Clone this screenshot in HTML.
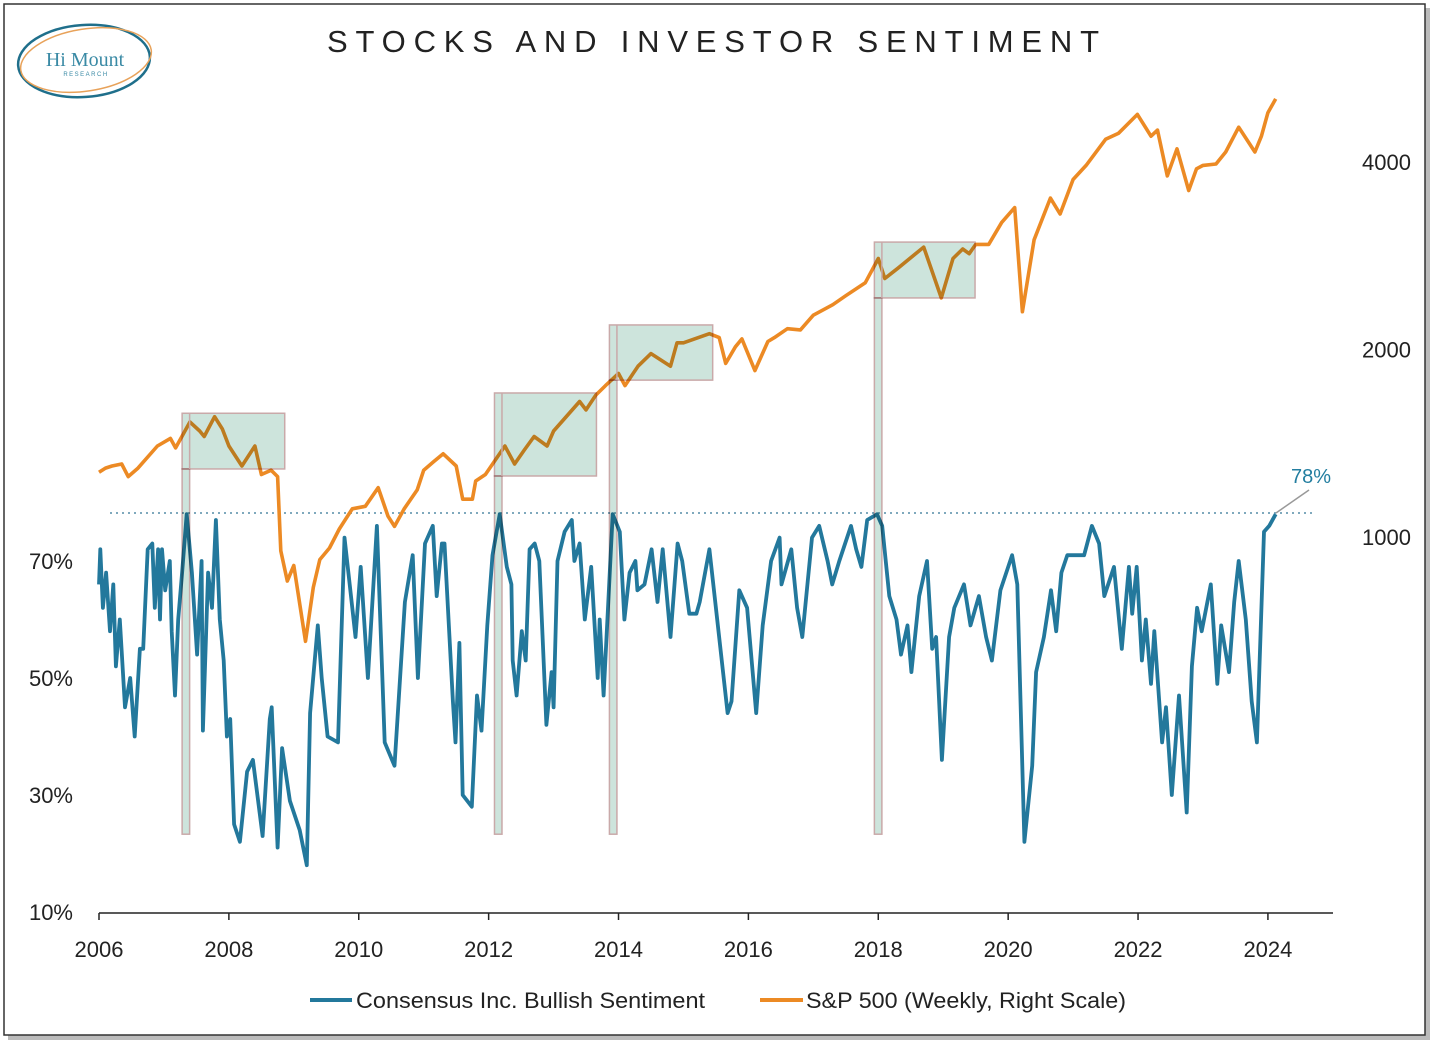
<!DOCTYPE html>
<html><head><meta charset="utf-8"><style>
html,body{margin:0;padding:0;background:#fff;}
svg{display:block;font-family:"Liberation Sans",sans-serif;}
#boxes rect{mix-blend-mode:multiply;}
</style></head><body>
<svg id="chart" width="1438" height="1049" viewBox="0 0 1438 1049" xmlns="http://www.w3.org/2000/svg">
<rect x="8" y="8" width="1422" height="1032" fill="#bbb"/>
<rect x="4" y="4" width="1421" height="1031" fill="#fff" stroke="#333" stroke-width="1.5"/>
<g>
<ellipse cx="84" cy="61" rx="66" ry="36" fill="none" stroke="#1f6f8b" stroke-width="2.5" transform="rotate(-4 84 61)"/>
<ellipse cx="86" cy="60" rx="66" ry="31" fill="none" stroke="#e8a25a" stroke-width="1.5" transform="rotate(-9 86 60)"/>
<text x="85" y="66" text-anchor="middle" font-family="Liberation Serif,serif" font-size="20" fill="#3a8aa5">Hi Mount</text>
<text x="86" y="76" text-anchor="middle" font-size="6" letter-spacing="1.5" fill="#3a8aa5">RESEARCH</text>
</g>
<text x="327" y="52" font-size="31" textLength="772" lengthAdjust="spacing" fill="#222">STOCKS AND INVESTOR SENTIMENT</text>
<line x1="110" y1="513" x2="1312" y2="513" stroke="#7fa9bd" stroke-width="2" stroke-dasharray="2,4"/>
<g id="series"></g>
<g id="boxes"></g>
<g id="axes"></g>
<line x1="1276" y1="513" x2="1309" y2="490" stroke="#999" stroke-width="1.5"/>
<text x="1311" y="483" text-anchor="middle" font-size="20" fill="#237ea0">78%</text>
<g>
<line x1="310" y1="1000" x2="352" y2="1000" stroke="#23789c" stroke-width="4"/>
<text x="356" y="1008" font-size="22" textLength="349" lengthAdjust="spacingAndGlyphs" fill="#222">Consensus Inc. Bullish Sentiment</text>
<line x1="760" y1="1000" x2="803" y2="1000" stroke="#ec8a24" stroke-width="4"/>
<text x="806" y="1008" font-size="22" textLength="320" lengthAdjust="spacingAndGlyphs" fill="#222">S&amp;P 500 (Weekly, Right Scale)</text>
</g>
</svg>
<script>
const sentYears=[0,.02,.06,.11,.17,.22,.26,.32,.4,.48,.55,.63,.68,.75,.82,.86,.91,.94,.97,1.02,1.09,1.12,1.17,1.22,1.28,1.35,1.43,1.51,1.58,1.6,1.68,1.74,1.8,1.86,1.92,1.97,2.02,2.08,2.17,2.28,2.37,2.52,2.63,2.66,2.75,2.82,2.94,3.09,3.2,3.25,3.37,3.43,3.52,3.68,3.78,3.86,3.95,4.03,4.14,4.28,4.4,4.55,4.71,4.83,4.91,5.02,5.14,5.2,5.28,5.32,5.45,5.49,5.55,5.6,5.74,5.82,5.89,5.98,6.06,6.17,6.28,6.35,6.37,6.43,6.51,6.57,6.63,6.71,6.78,6.89,6.97,7.0,7.06,7.17,7.28,7.32,7.4,7.48,7.58,7.68,7.71,7.77,7.91,8.02,8.09,8.17,8.26,8.29,8.4,8.51,8.6,8.68,8.8,8.91,8.98,9.09,9.2,9.25,9.4,9.52,9.68,9.74,9.86,9.98,10.12,10.22,10.35,10.48,10.51,10.66,10.75,10.83,10.98,11.09,11.22,11.29,11.4,11.58,11.66,11.74,11.83,11.98,12.06,12.17,12.28,12.35,12.45,12.51,12.63,12.75,12.83,12.89,12.98,13.09,13.17,13.32,13.42,13.55,13.66,13.75,13.88,14.06,14.14,14.25,14.37,14.43,14.55,14.66,14.74,14.82,14.91,15.09,15.17,15.29,15.4,15.48,15.63,15.75,15.86,15.91,15.98,16.06,16.12,16.2,16.25,16.37,16.43,16.52,16.63,16.75,16.83,16.91,16.98,17.12,17.22,17.28,17.4,17.48,17.55,17.66,17.75,17.83,17.94,18.02,18.12];
const sentValues=[66,72,62,68,58,66,52,60,45,50,40,55,55,72,73,62,72,60,72,65,70,58,47,60,68,78,68,54,70,41,68,62,77,60,53,40,43,25,22,34,36,23,43,45,21,38,29,24,18,44,59,50,40,39,74,66,57,69,50,76,39,35,63,71,50,73,76,64,73,73,46,39,56,30,28,47,41,59,71,78,69,66,53,47,58,53,72,73,70,42,51,45,70,75,77,70,73,60,69,50,60,47,78,75,60,68,70,65,66,72,63,72,57,73,70,61,61,63,72,60,44,46,65,62,44,59,70,74,66,72,62,57,74,76,70,66,70,76,72,69,77,78,76,64,60,54,59,51,64,70,55,57,36,57,62,66,59,64,57,53,65,71,66,22,35,51,57,65,58,68,71,71,71,76,73,64,69,55,69,61,69,53,60,49,58,39,45,30,47,27,52,62,58,66,49,59,51,63,70,60,46,39,75,76,78];
const spxYears=[2006.0,2006.1,2006.2,2006.35,2006.45,2006.6,2006.9,2007.1,2007.18,2007.4,2007.55,2007.62,2007.78,2007.9,2008.0,2008.2,2008.4,2008.5,2008.65,2008.75,2008.8,2008.9,2009.0,2009.18,2009.3,2009.4,2009.55,2009.7,2009.9,2010.1,2010.3,2010.45,2010.55,2010.7,2010.9,2011.0,2011.15,2011.3,2011.5,2011.6,2011.75,2011.8,2011.95,2012.25,2012.4,2012.55,2012.7,2012.9,2013.0,2013.4,2013.5,2013.65,2013.8,2014.0,2014.1,2014.3,2014.5,2014.8,2014.9,2015.0,2015.4,2015.55,2015.65,2015.8,2015.9,2016.1,2016.3,2016.4,2016.6,2016.8,2017.0,2017.3,2017.5,2017.8,2018.0,2018.1,2018.3,2018.7,2018.97,2019.15,2019.3,2019.4,2019.5,2019.7,2019.9,2020.1,2020.22,2020.4,2020.65,2020.8,2021.0,2021.2,2021.5,2021.7,2021.99,2022.2,2022.3,2022.45,2022.6,2022.78,2022.9,2023.0,2023.2,2023.35,2023.55,2023.8,2023.9,2024.0,2024.12];
const spxValues=[1270,1290,1300,1310,1250,1290,1400,1440,1390,1530,1480,1450,1560,1490,1400,1300,1400,1260,1280,1250,950,850,900,680,830,920,960,1030,1110,1120,1200,1080,1040,1110,1190,1280,1320,1360,1300,1150,1150,1230,1260,1400,1310,1380,1450,1400,1480,1650,1600,1690,1750,1830,1750,1880,1970,1880,2050,2050,2120,2090,1900,2020,2080,1850,2060,2090,2160,2150,2270,2360,2440,2560,2800,2600,2700,2920,2420,2800,2900,2850,2950,2950,3200,3380,2300,3000,3500,3300,3750,3950,4350,4450,4770,4400,4500,3800,4200,3600,3900,3950,3970,4150,4550,4150,4400,4800,5050];
const boxStart=[2007.28,2012.09,2013.86,2017.94];
const boxEnd=[2008.86,2013.66,2015.45,2019.49];
const boxTop=[1580,1703,2190,2975];
const boxBottom=[1286,1253,1786,2420];
const barFloorPct=23.3;
const yearTicks=[2006,2008,2010,2012,2014,2016,2018,2020,2022,2024];
const pctTicks=[10,30,50,70];
const pctTickLabels=["10%","30%","50%","70%"];
const priceTicks=[1000,2000,4000];

const NS="http://www.w3.org/2000/svg";
const xS=y=>99+(y-2006)*64.94;
const yL=v=>912-(v-10)*5.85;
const yR=p=>537-Math.log2(p/1000)*187.5;
function mk(tag,attrs,parent){const e=document.createElementNS(NS,tag);for(const k in attrs)e.setAttribute(k,attrs[k]);parent.appendChild(e);return e;}
const boxes=document.getElementById('boxes'),series=document.getElementById('series'),axes=document.getElementById('axes');
const sp=mk('polyline',{points:spxYears.map((y,i)=>xS(y).toFixed(1)+','+yR(spxValues[i]).toFixed(1)).join(' '),fill:'none',stroke:'#ec8a24','stroke-width':3.6,'stroke-linejoin':'round'},series);


const se=mk('polyline',{points:sentYears.map((y,i)=>xS(2006+y).toFixed(1)+','+yL(sentValues[i]).toFixed(1)).join(' '),fill:'none',stroke:'#23789c','stroke-width':3.8,'stroke-linejoin':'round'},series);


for(let i=0;i<boxStart.length;i++){
  const x0=xS(boxStart[i]),x1=xS(boxEnd[i]),t=yR(boxTop[i]),b=yR(boxBottom[i]);
  const r=mk('rect',{x:x0,y:t,width:x1-x0,height:b-t,fill:'#cde4dc',stroke:'#c9a9a9','stroke-width':1.5},boxes);
  
  
  const bar=mk('rect',{x:x0,y:b,width:7.5,height:yL(barFloorPct)-b,fill:'#cde4dc',stroke:'#c9a9a9','stroke-width':1.5},boxes);
  
  
  const edge=mk('line',{x1:x0+7.5,y1:t,x2:x0+7.5,y2:b,stroke:'#c9a9a9','stroke-width':1.5},boxes);
  
  
}
const ax=mk('line',{x1:99,y1:913,x2:1333,y2:913,stroke:'#222','stroke-width':1.5},axes);


yearTicks.forEach(y=>{
  const x=xS(y);
  const t=mk('line',{x1:x,y1:913,x2:x,y2:920,stroke:'#222','stroke-width':1.5},axes);
  
  
  const l=mk('text',{x:x,y:957,'text-anchor':'middle','font-size':22,fill:'#222'},axes);
  l.textContent=y;
  
  
});
pctTicks.forEach((v,i)=>{
  const l=mk('text',{x:73,y:yL(v)+8,'text-anchor':'end','font-size':22,fill:'#222'},axes);
  l.textContent=pctTickLabels[i];
  
  
});
priceTicks.forEach(p=>{
  const l=mk('text',{x:1411,y:yR(p)+8,'text-anchor':'end','font-size':22,fill:'#222'},axes);
  l.textContent=p;
  
  
});
</script>
</body></html>
